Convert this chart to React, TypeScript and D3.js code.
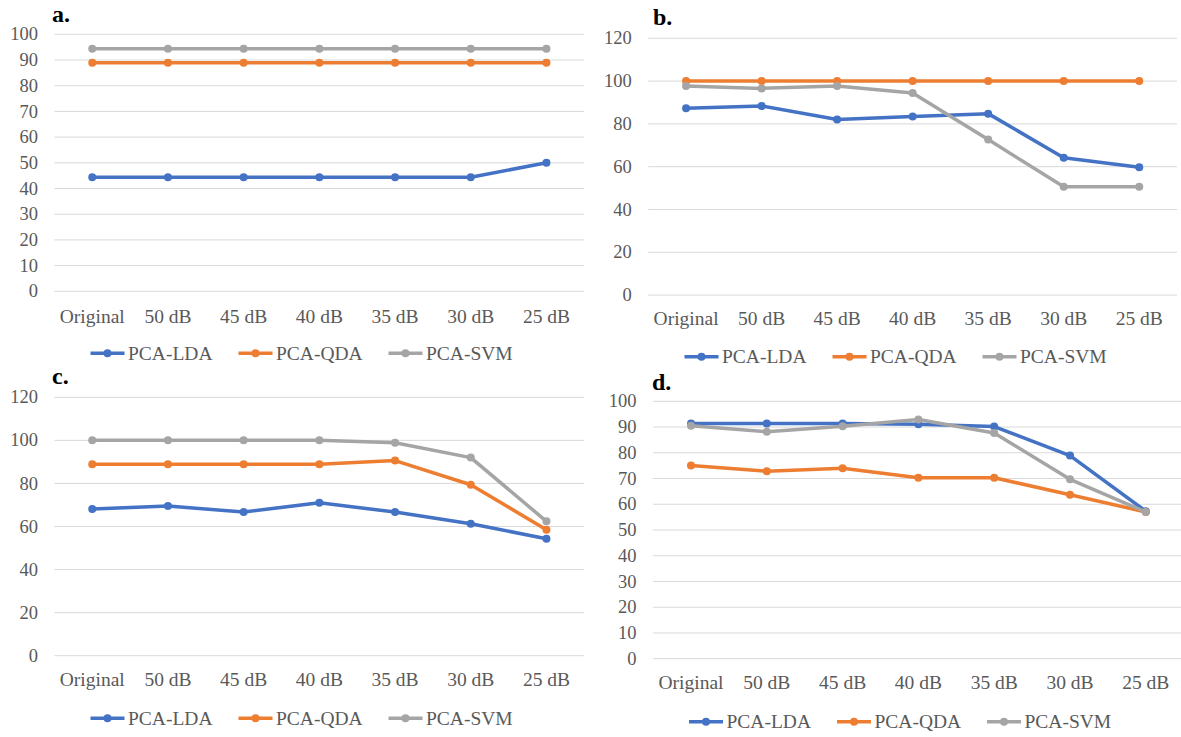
import React from "react";
import * as d3 from "d3";

const categories = ["Original", "50 dB", "45 dB", "40 dB", "35 dB", "30 dB", "25 dB"];
const seriesNames = ["PCA-LDA", "PCA-QDA", "PCA-SVM"];
const seriesColors = ["#4472C4", "#ED7D31", "#A5A5A5"];

// panel a
const ldaA = [44.4, 44.4, 44.4, 44.4, 44.4, 44.4, 50];
const qdaA = [88.9, 88.9, 88.9, 88.9, 88.9, 88.9, 88.9];
const svmA = [94.4, 94.4, 94.4, 94.4, 94.4, 94.4, 94.4];
// panel b
const ldaB = [87.3, 88.4, 82.1, 83.5, 84.8, 64.2, 59.7];
const qdaB = [100, 100, 100, 100, 100, 100, 100];
const svmB = [97.7, 96.6, 97.7, 94.4, 72.7, 50.6, 50.6];
// panel c
const ldaC = [68.1, 69.5, 66.7, 71.0, 66.7, 61.3, 54.3];
const qdaC = [88.9, 88.9, 88.9, 88.9, 90.6, 79.4, 58.5];
const svmC = [100, 100, 100, 100, 98.9, 92.0, 62.4];
// panel d
const ldaD = [91.4, 91.4, 91.4, 91.1, 90.2, 78.9, 57.3];
const qdaD = [75.1, 72.8, 74.0, 70.3, 70.3, 63.7, 57.0];
const svmD = [90.5, 88.2, 90.3, 92.9, 87.7, 69.7, 57.0];

const ticks100 = [0, 10, 20, 30, 40, 50, 60, 70, 80, 90, 100];
const ticks120 = [0, 20, 40, 60, 80, 100, 120];

const FONT = "Liberation Serif, serif";
const TEXT = "#595959";

type PanelProps = {
  label: string;
  labelX: number;
  labelY: number;
  x0: number;
  x1: number;
  yTop: number;
  yBottom: number;
  ticks: number[];
  catY: number;
  legendX: number;
  legendY: number;
  series: number[][];
};

function Panel(p: PanelProps) {
  const x = d3.scaleBand<string>().domain(categories).range([p.x0, p.x1]);
  const yMax = p.ticks[p.ticks.length - 1];
  const y = d3.scaleLinear().domain([0, yMax]).range([p.yBottom, p.yTop]);
  const cx = (c: string) => (x(c) as number) + x.bandwidth() / 2;
  const line = d3
    .line<number>()
    .x((_, i) => cx(categories[i]))
    .y((d) => y(d));
  const legendOffsets = [0, 148, 298];

  return (
    <g fontFamily={FONT}>
      <text x={p.labelX} y={p.labelY} fontSize={24} fontWeight="bold" fill="#000">
        {p.label}
      </text>
      {p.ticks.map((t) => (
        <g key={t}>
          <line x1={p.x0} x2={p.x1} y1={y(t)} y2={y(t)} stroke="#D9D9D9" strokeWidth={1} />
          <text x={p.x0 - 16.5} y={y(t)} dy="0.33em" textAnchor="end" fontSize={18.5} fill={TEXT}>
            {t}
          </text>
        </g>
      ))}
      {categories.map((c) => (
        <text key={c} x={cx(c)} y={p.catY} dy="0.33em" textAnchor="middle" fontSize={19.5} fill={TEXT}>
          {c}
        </text>
      ))}
      {p.series.map((s, si) => (
        <g key={si}>
          <path d={line(s) || ""} fill="none" stroke={seriesColors[si]} strokeWidth={3.5} strokeLinejoin="round" />
          {s.map((v, i) => (
            <circle key={i} cx={cx(categories[i])} cy={y(v)} r={4} fill={seriesColors[si]} />
          ))}
        </g>
      ))}
      {seriesNames.map((n, si) => {
        const lx = p.legendX + legendOffsets[si];
        return (
          <g key={n}>
            <line x1={lx} x2={lx + 34} y1={p.legendY} y2={p.legendY} stroke={seriesColors[si]} strokeWidth={3.5} />
            <circle cx={lx + 17} cy={p.legendY} r={4} fill={seriesColors[si]} />
            <text x={lx + 37.5} y={p.legendY} dy="0.33em" fontSize={19.5} fill={TEXT}>
              {n}
            </text>
          </g>
        );
      })}
    </g>
  );
}

export default function App() {
  return (
    <svg
      width={1181}
      height={737}
      style={{ position: "absolute", left: 0, top: 0, background: "#fff" }}
    >
      <rect width={1181} height={737} fill="#fff" />
      <Panel
        label="a."
        labelX={52}
        labelY={22}
        x0={54.4}
        x1={584.3}
        yTop={34.3}
        yBottom={291.3}
        ticks={ticks100}
        catY={316.7}
        legendX={90.5}
        legendY={353.3}
        series={[ldaA, qdaA, svmA]}
      />
      <Panel
        label="b."
        labelX={653}
        labelY={25}
        x0={648.3}
        x1={1177}
        yTop={38.3}
        yBottom={295.1}
        ticks={ticks120}
        catY={319}
        legendX={684.5}
        legendY={356.7}
        series={[ldaB, qdaB, svmB]}
      />
      <Panel
        label="c."
        labelX={52}
        labelY={384}
        x0={54.4}
        x1={584.3}
        yTop={397.3}
        yBottom={655.7}
        ticks={ticks120}
        catY={680}
        legendX={90.5}
        legendY={718.3}
        series={[ldaC, qdaC, svmC]}
      />
      <Panel
        label="d."
        labelX={652}
        labelY={390}
        x0={653.1}
        x1={1183.7}
        yTop={401.3}
        yBottom={658.7}
        ticks={ticks100}
        catY={683}
        legendX={689}
        legendY={721.7}
        series={[ldaD, qdaD, svmD]}
      />
    </svg>
  );
}
